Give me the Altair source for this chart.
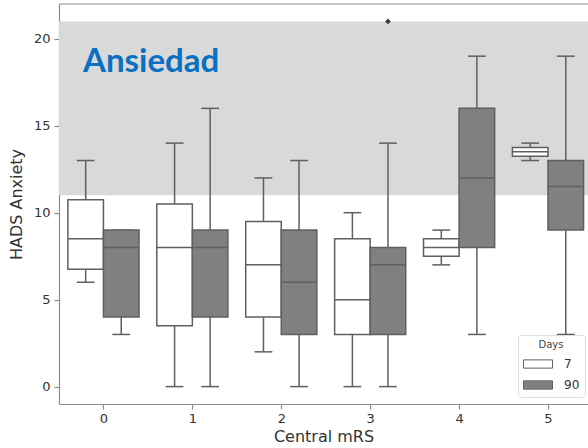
import altair as alt
import pandas as pd

# ---- data ----
mrs = [0, 1, 2, 3, 4, 5]
days = ["7", "90"]

d7_low = [6, 0, 2, 0, 7, 13]
d7_q1 = [6.75, 3.5, 4, 3, 7.5, 13.25]
d7_med = [8.5, 8, 7, 5, 8, 13.5]
d7_q3 = [10.75, 10.5, 9.5, 8.5, 8.5, 13.75]
d7_high = [13, 14, 12, 10, 9, 14]

d90_low = [3, 0, 0, 0, 3, 3]
d90_q1 = [4, 4, 3, 3, 8, 9]
d90_med = [8, 8, 6, 7, 12, 11.5]
d90_q3 = [9, 9, 9, 8, 16, 13]
d90_high = [9, 16, 13, 14, 19, 19]

out_mrs = [3]
out_day = ["90"]
out_val = [21]

band_lo = 11
band_hi = 21
y_ticks = [0, 5, 10, 15, 20]
annotation = "Ansiedad"

# ---- tables ----
rows = []
for d, lo, q1, md, q3, hi in [("7", d7_low, d7_q1, d7_med, d7_q3, d7_high),
                              ("90", d90_low, d90_q1, d90_med, d90_q3, d90_high)]:
    for i, m in enumerate(mrs):
        rows.append(dict(mrs=m, day=d, low=lo[i], q1=q1[i], med=md[i], q3=q3[i], high=hi[i]))
df = pd.DataFrame(rows)
out_df = pd.DataFrame(dict(mrs=out_mrs, day=out_day, val=out_val))

LINE = "#5f5f5f"
SPINE = "#8c8c8c"
XMIN, XMAX = -0.5, 5.45
YMIN, YMAX = -1, 22

xscale = alt.Scale(domain=[XMIN, XMAX], nice=False, zero=False)
yscale = alt.Scale(domain=[YMIN, YMAX], nice=False, zero=False)
xaxis = alt.Axis(values=mrs, format="d", title="Central mRS", tickSize=5,
                 labelPadding=3, titlePadding=3)
yaxis = alt.Axis(values=y_ticks, title="HADS Anxiety", tickSize=5,
                 labelPadding=4, titlePadding=9)


def X(field, **kw):
    return alt.X(field, type="quantitative", scale=xscale, axis=xaxis, **kw)


def Y(field, **kw):
    return alt.Y(field, type="quantitative", scale=yscale, axis=yaxis, **kw)


base = alt.Chart(df).transform_calculate(
    c="datum.mrs + (datum.day == '7' ? -0.2 : 0.2)"
).transform_calculate(
    left="datum.c - 0.2", right="datum.c + 0.2",
    capl="datum.c - 0.1", capr="datum.c + 0.1"
)

band = alt.Chart(pd.DataFrame(dict(lo=[band_lo], hi=[band_hi]))).mark_rect(
    color="#d9d9d9"
).encode(
    x=alt.X(datum=XMIN, type="quantitative", scale=xscale, axis=xaxis),
    x2=alt.X2(datum=XMAX),
    y=Y("lo"), y2="hi",
)

top_line = alt.Chart(pd.DataFrame(dict(t=[YMAX]))).mark_rule(
    color=SPINE, strokeWidth=1.2
).encode(
    x=alt.X(datum=XMIN, type="quantitative", scale=xscale, axis=xaxis),
    x2=alt.X2(datum=XMAX),
    y=Y("t"),
)

w_lo = base.mark_rule(color=LINE, strokeWidth=1.5).encode(x=X("c"), y=Y("low"), y2="q1")
w_hi = base.mark_rule(color=LINE, strokeWidth=1.5).encode(x=X("c"), y=Y("q3"), y2="high")
cap_lo = base.mark_rule(color=LINE, strokeWidth=1.5).encode(x=X("capl"), x2="capr", y=Y("low"))
cap_hi = base.mark_rule(color=LINE, strokeWidth=1.5).encode(x=X("capl"), x2="capr", y=Y("high"))

boxes = base.mark_bar(stroke=LINE, strokeWidth=1.5).encode(
    x=X("left"), x2="right", y=Y("q1"), y2="q3",
    fill=alt.Fill("day:N", scale=alt.Scale(domain=days, range=["#ffffff", "#808080"]),
                  legend=alt.Legend(
                      title="Days", orient="none", legendX=459, legendY=331,
                      symbolType="M-1.93,-0.55H1.93V0.55H-1.93Z", symbolSize=225,
                      symbolOffset=7,
                      symbolStrokeColor=LINE, symbolStrokeWidth=1,
                      titleFontSize=10, titleFontWeight="normal", titleColor="#444",
                      titleAnchor="middle", titlePadding=6,
                      labelFontSize=12, labelColor="#333", labelOffset=18,
                      fillColor="white", strokeColor="#dddddd", padding=5,
                      cornerRadius=3, rowPadding=6,
                  )),
)
medians = base.mark_rule(color=LINE, strokeWidth=1.5).encode(x=X("left"), x2="right", y=Y("med"))

outliers = alt.Chart(out_df).transform_calculate(
    c="datum.mrs + (datum.day == '7' ? -0.2 : 0.2)"
).mark_point(shape="diamond", filled=True, color="#3c3c3c", size=34, opacity=1).encode(
    x=X("c"), y=Y("val"),
)

label = alt.Chart(pd.DataFrame(dict(t=[annotation]))).mark_text(
    align="left", baseline="alphabetic", font="Lato", fontWeight="bold",
    fontSize=33, color="#0a70c2",
).encode(
    x=alt.X(datum=-0.23, type="quantitative", scale=xscale, axis=xaxis),
    y=alt.Y(datum=18.1, type="quantitative", scale=yscale, axis=yaxis),
    text="t:N",
)

chart = alt.layer(
    band, top_line, w_lo, w_hi, cap_lo, cap_hi, boxes, medians, outliers, label
).properties(
    width=529, height=400,
    autosize=alt.AutoSizeParams(type="none"),
    padding={"left": 59, "top": 4, "right": 0, "bottom": 44},
).configure_view(stroke=None).configure_axis(
    grid=False, domainColor=SPINE, domainWidth=1.2, tickColor=SPINE, tickWidth=1.2,
    labelFont="DejaVu Sans", labelFontSize=13, labelColor="#333",
    titleFont="DejaVu Sans", titleFontSize=16, titleFontWeight="normal", titleColor="#333",
).configure_legend(labelFont="DejaVu Sans", titleFont="DejaVu Sans")

chart.save("out.html", embed_options={"renderer": "svg", "actions": False})
